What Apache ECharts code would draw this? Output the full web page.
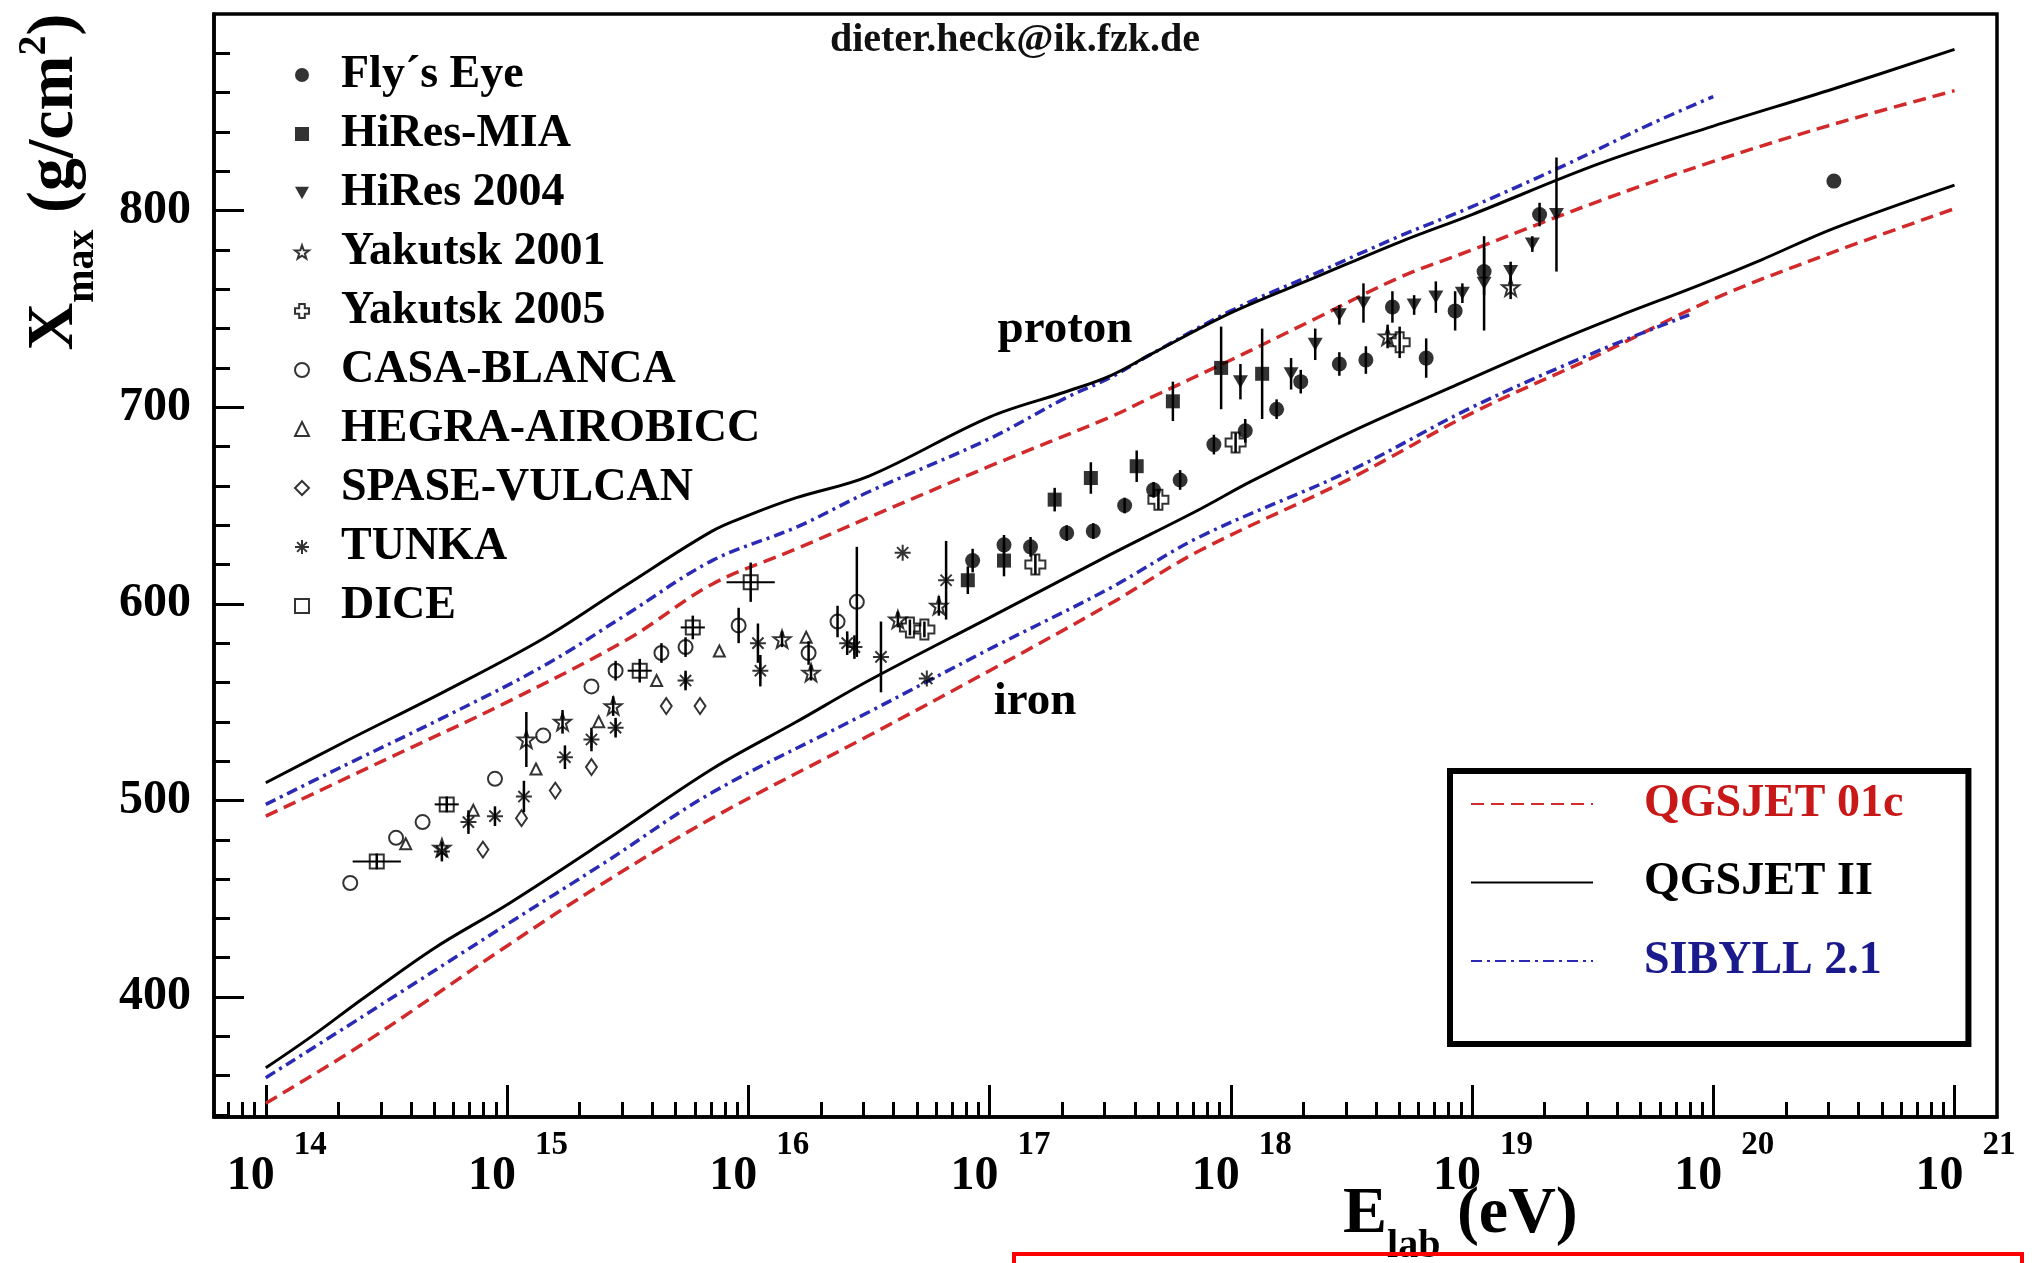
<!DOCTYPE html>
<html>
<head>
<meta charset="utf-8">
<title>Xmax versus primary energy</title>
<script src="https://cdn.jsdelivr.net/npm/echarts@6.0.0/dist/echarts.min.js"></script>
<style>
  html, body { margin: 0; padding: 0; background: #ffffff; }
  #chart { width: 2035px; height: 1263px; }
</style>
</head>
<body>
<div id="chart"></div>
<script>
// ---------- Model predictions: lg(E/eV) and Xmax (g/cm^2) ----------
const qgsjetIIProtonLgE  = [14.0, 14.33, 14.75, 15.16, 15.5, 15.85, 16.0, 16.2, 16.5, 17.0, 17.32, 17.5, 17.67, 18.0, 18.35, 18.7, 19.0, 19.53, 20.0, 20.5, 21.0];
const qgsjetIIProtonXmax = [509, 530, 556, 583, 610, 637, 645, 654, 665, 695, 708, 716, 727, 748, 766, 784, 798, 824, 843, 862, 882];

const sibyllProtonLgE  = [14.0, 14.33, 14.75, 15.16, 15.5, 15.85, 16.2, 16.5, 17.0, 17.32, 17.5, 17.67, 18.0, 18.35, 18.7, 19.0, 19.4, 19.74, 20.0];
const sibyllProtonXmax = [498, 518, 543, 569, 595, 622, 639, 657, 684, 705, 715, 727, 749, 768, 787, 802, 824, 844, 858];

const qgsjet01cProtonLgE  = [14.0, 14.5, 15.0, 15.5, 15.85, 16.2, 16.5, 17.0, 17.5, 17.67, 18.0, 18.35, 18.7, 19.0, 19.53, 20.0, 20.5, 21.0];
const qgsjet01cProtonXmax = [492, 521, 550, 582, 610, 628, 644, 670, 695, 705, 724, 745, 766, 780, 805, 825, 844, 861];

const qgsjetIIIronLgE  = [14.0, 14.19, 14.4, 14.7, 15.0, 15.4, 15.85, 16.2, 16.5, 17.0, 17.5, 17.87, 18.08, 18.49, 18.91, 19.32, 19.6, 19.94, 20.2, 20.5, 21.0];
const qgsjetIIIronXmax = [364, 380, 399, 425, 447, 479, 516, 540, 561, 593, 625, 648, 662, 687, 710, 732, 746, 762, 775, 791, 813];

const sibyllIronLgE  = [14.0, 14.4, 15.0, 15.4, 15.85, 16.5, 17.0, 17.5, 17.87, 18.5, 19.0, 19.53, 19.9];
const sibyllIronXmax = [359, 390, 437, 468, 504, 545, 577, 608, 634, 668, 700, 729, 747];

const qgsjet01cIronLgE  = [14.0, 14.4, 15.0, 15.4, 15.85, 16.5, 17.0, 17.5, 17.87, 18.5, 19.0, 19.53, 20.0, 20.5, 21.0];
const qgsjet01cIronXmax = [346, 376, 426, 458, 491, 533, 566, 600, 627, 664, 697, 727, 755, 779, 801];

// ---------- Measurements: lg(E/eV), Xmax, vertical error ----------
const flysEyeLgE  = [16.93, 17.06, 17.17, 17.32, 17.43, 17.56, 17.68, 17.79, 17.93, 18.06, 18.19, 18.29, 18.45, 18.56, 18.67, 18.81, 18.93, 19.05, 19.28, 20.50];
const flysEyeXmax = [622, 630, 629, 636, 637, 650, 658, 663, 681, 688, 699, 713, 722, 724, 751, 725, 749, 769, 798, 815];
const flysEyeErr  = [6, 5, 5, 4, 4, 4, 4, 5, 5, 6, 5, 6, 6, 7, 8, 10, 10, 12, 6, 0];

const hiresMiaLgE  = [16.91, 17.06, 17.27, 17.42, 17.61, 17.76, 17.96, 18.13];
const hiresMiaXmax = [612, 622, 653, 664, 670, 703, 720, 717];
const hiresMiaErr  = [7, 8, 6, 8, 8, 10, 21, 23];

const hires2004LgE  = [18.04, 18.25, 18.35, 18.45, 18.55, 18.76, 18.85, 18.96, 19.05, 19.16, 19.25, 19.35];
const hires2004Xmax = [713, 717, 732, 747, 753, 752, 756, 758, 763, 769, 783, 798];
const hires2004Err  = [9, 8, 8, 5, 10, 5, 8, 5, 24, 5, 4, 29];

const yakutsk2001LgE  = [14.73, 15.08, 15.23, 15.44, 16.14, 16.26, 16.62, 16.79, 18.65, 19.16];
const yakutsk2001Xmax = [476, 531, 540, 548, 582, 565, 592, 599, 736, 761];
const yakutsk2001Err  = [0, 14, 6, 5, 4, 4, 4, 5, 6, 6];

const yakutsk2005LgE  = [16.67, 16.73, 17.19, 17.70, 18.02, 18.70];
const yakutsk2005Xmax = [588, 587, 620, 653, 682, 733];
const yakutsk2005Err  = [4, 4, 5, 5, 5, 8];

const casaBlancaLgE  = [14.35, 14.54, 14.65, 14.95, 15.15, 15.35, 15.45, 15.64, 15.74, 15.96, 16.25, 16.37, 16.45];
const casaBlancaXmax = [458, 481, 489, 511, 533, 558, 566, 575, 578, 589, 575, 591, 601];
const casaBlancaErr  = [0, 0, 0, 0, 0, 0, 5, 5, 5, 9, 6, 8, 28];

const hegraLgE  = [14.58, 14.86, 15.12, 15.38, 15.62, 15.88, 16.24];
const hegraXmax = [478, 495, 516, 540, 561, 576, 583];
const hegraErr  = [0, 0, 0, 0, 0, 0, 0];

const spaseLgE  = [14.90, 15.06, 15.20, 15.35, 15.66, 15.80];
const spaseXmax = [475, 491, 505, 517, 548, 548];
const spaseErr  = [0, 0, 0, 0, 0, 0];

const tunkaLgE  = [14.73, 14.84, 14.95, 15.07, 15.24, 15.35, 15.45, 15.74, 16.04, 16.05, 16.41, 16.44, 16.55, 16.64, 16.74, 16.82];
const tunkaXmax = [474, 489, 492, 502, 522, 531, 537, 561, 580, 566, 580, 578, 573, 626, 562, 612];
const tunkaErr  = [5, 6, 5, 8, 6, 6, 5, 5, 10, 8, 6, 6, 18, 0, 0, 20];

const diceLgE    = [14.46, 14.75, 15.55, 15.77, 16.01];
const diceXmax   = [469, 498, 566, 588, 611];
const diceErr    = [4, 4, 6, 6, 10];
const diceLgErr  = [0.1, 0.05, 0.05, 0.05, 0.1];

// ---------- Axis ticks ----------
const energyDecades = [14, 15, 16, 17, 18, 19, 20, 21];
const xmaxTicks = [400, 500, 600, 700, 800];

// ---------- Chart ----------
const SERIF = '"Liberation Serif", "Times New Roman", serif';
const E_MIN = 6.1e13, E_MAX = 1.5e21;
const X_MIN = 339, X_MAX = 900;

const majorE = energyDecades.map(d => Math.pow(10, d));
const minorE = [];
for (let d = 13; d <= 20; d++) {
  for (let m = 2; m <= 9; m++) {
    const v = m * Math.pow(10, d);
    if (v > E_MIN && v < E_MAX) minorE.push(v);
  }
}
const minorXmax = [];
for (let v = 340; v < X_MAX; v += 20) {
  if (xmaxTicks.indexOf(v) < 0) minorXmax.push(v);
}

const toPairs = (lg, xs) => lg.map((l, i) => [Math.pow(10, l), xs[i]]);

const RED = '#d22a2a', BLUE = '#2a2ab4', BLACK = '#000000';
const DASH_RED = [13, 7];
const DASH_BLUE = [11, 5, 3, 5];

function curve(name, lg, xs, color, dash, width) {
  return {
    type: 'line', name, data: toPairs(lg, xs),
    symbol: 'none', showSymbol: false, smooth: 0.35,
    lineStyle: { color, width, type: dash },
    itemStyle: { color },
    z: 2, silent: true
  };
}

const STAR = 'path://M10,0L12.35,6.76L19.51,6.91L13.8,11.24L15.88,18.09L10,14L4.12,18.09L6.2,11.24L0.49,6.91L7.65,6.76Z';
const OPEN_CROSS = 'path://M3,0L7,0L7,3L10,3L10,7L7,7L7,10L3,10L3,7L0,7L0,3L3,3Z';
const TRI_DOWN = 'path://M0,0L10,0L5,9Z';
const ASTERISK = 'path://M0,5L10,5M5,0L5,10M1.5,1.5L8.5,8.5M1.5,8.5L8.5,1.5';

const HOLLOW = { color: 'rgba(255,255,255,0)', borderColor: '#000', borderWidth: 2 };
const FILLED = { color: '#000' };

const datasets = [
  { name: 'Fly\u00B4s Eye',     lg: flysEyeLgE,     x: flysEyeXmax,     err: flysEyeErr,     symbol: 'circle',  size: 15,       style: FILLED },
  { name: 'HiRes-MIA',          lg: hiresMiaLgE,    x: hiresMiaXmax,    err: hiresMiaErr,    symbol: 'rect',    size: 14,       style: FILLED },
  { name: 'HiRes 2004',         lg: hires2004LgE,   x: hires2004Xmax,   err: hires2004Err,   symbol: TRI_DOWN,  size: [15, 13], style: FILLED },
  { name: 'Yakutsk 2001',       lg: yakutsk2001LgE, x: yakutsk2001Xmax, err: yakutsk2001Err, symbol: STAR,      size: 17,       style: HOLLOW },
  { name: 'Yakutsk 2005',       lg: yakutsk2005LgE, x: yakutsk2005Xmax, err: yakutsk2005Err, symbol: OPEN_CROSS, size: 20,      style: HOLLOW },
  { name: 'CASA-BLANCA',        lg: casaBlancaLgE,  x: casaBlancaXmax,  err: casaBlancaErr,  symbol: 'circle',  size: 14,       style: HOLLOW },
  { name: 'HEGRA-AIROBICC',     lg: hegraLgE,       x: hegraXmax,       err: hegraErr,       symbol: 'triangle', size: 11,      style: HOLLOW },
  { name: 'SPASE-VULCAN',       lg: spaseLgE,       x: spaseXmax,       err: spaseErr,       symbol: 'diamond', size: [11, 16], style: HOLLOW },
  { name: 'TUNKA',              lg: tunkaLgE,       x: tunkaXmax,       err: tunkaErr,       symbol: ASTERISK,  size: 16,       style: HOLLOW },
  { name: 'DICE',               lg: diceLgE,        x: diceXmax,        err: diceErr,        symbol: 'rect',    size: 14,       style: HOLLOW, lgErr: diceLgErr }
];

const errorBars = [];
datasets.forEach(ds => {
  ds.lg.forEach((l, i) => {
    const dlg = ds.lgErr ? ds.lgErr[i] : 0;
    if (ds.err[i] > 0 || dlg > 0) errorBars.push([Math.pow(10, l), ds.x[i], ds.err[i], dlg]);
  });
});

const pointSeries = datasets.map(ds => ({
  type: 'scatter', name: ds.name, data: toPairs(ds.lg, ds.x),
  symbol: ds.symbol, symbolSize: ds.size,
  itemStyle: Object.assign({}, ds.style),
  z: 4, silent: true
}));

const curveSeries = [
  curve('QGSJET 01c', qgsjet01cProtonLgE, qgsjet01cProtonXmax, RED, DASH_RED, 3.5),
  curve('QGSJET 01c', qgsjet01cIronLgE,   qgsjet01cIronXmax,   RED, DASH_RED, 3.5),
  curve('SIBYLL 2.1', sibyllProtonLgE,    sibyllProtonXmax,    BLUE, DASH_BLUE, 3.5),
  curve('SIBYLL 2.1', sibyllIronLgE,      sibyllIronXmax,      BLUE, DASH_BLUE, 3.5),
  curve('QGSJET II',  qgsjetIIProtonLgE,  qgsjetIIProtonXmax,  BLACK, 'solid', 3),
  curve('QGSJET II',  qgsjetIIIronLgE,    qgsjetIIIronXmax,    BLACK, 'solid', 3)
];

const errorSeries = {
  type: 'custom', name: 'error bars', silent: true, z: 3,
  data: errorBars,
  encode: { x: 0, y: 1 },
  renderItem(params, api) {
    const x = api.value(0), y = api.value(1), dy = api.value(2), dlg = api.value(3);
    const kids = [];
    if (dy > 0) {
      const a = api.coord([x, y - dy]), b = api.coord([x, y + dy]);
      kids.push({ type: 'line', shape: { x1: a[0], y1: a[1], x2: b[0], y2: b[1] }, style: { stroke: '#000', lineWidth: 2.5 } });
    }
    if (dlg > 0) {
      const a = api.coord([x / Math.pow(10, dlg), y]), b = api.coord([x * Math.pow(10, dlg), y]);
      kids.push({ type: 'line', shape: { x1: a[0], y1: a[1], x2: b[0], y2: b[1] }, style: { stroke: '#000', lineWidth: 2 } });
    }
    return { type: 'group', children: kids };
  }
};

const chart = echarts.init(document.getElementById('chart'), null, { renderer: 'canvas' });

const labelFont = { fontFamily: SERIF, fontWeight: 'bold', color: '#000' };

chart.setOption({
  animation: false,
  backgroundColor: '#ffffff',
  grid: {
    left: 214, right: 38, top: 14, bottom: 146,
    show: true, borderColor: '#000', borderWidth: 3.5,
    backgroundColor: 'rgba(0,0,0,0)',
    containLabel: false, outerBoundsMode: 'none'
  },
  xAxis: [
    {
      type: 'log', logBase: 10, min: E_MIN, max: E_MAX, position: 'bottom',
      axisLine: { show: true, onZero: false, lineStyle: { color: '#000', width: 3.5 } },
      axisTick: { show: true, inside: true, length: 32, lineStyle: { color: '#000', width: 3 }, customValues: majorE },
      axisLabel: Object.assign({ customValues: majorE, formatter: () => '10', fontSize: 48, lineHeight: 48,
                                 margin: 36, align: 'center', padding: [0, 30, 0, 0] }, labelFont),
      splitLine: { show: false }, minorTick: { show: false }
    },
    {
      type: 'log', logBase: 10, min: E_MIN, max: E_MAX, position: 'bottom',
      axisLine: { show: false },
      axisTick: { show: true, inside: true, length: 15, lineStyle: { color: '#000', width: 3 }, customValues: minorE },
      axisLabel: Object.assign({ customValues: majorE, formatter: v => String(Math.round(Math.log10(v))),
                                 fontSize: 33, lineHeight: 33, margin: 12, align: 'left', padding: [0, 0, 0, 28] }, labelFont),
      splitLine: { show: false }
    }
  ],
  yAxis: [
    {
      type: 'value', min: X_MIN, max: X_MAX, position: 'left',
      axisLine: { show: true, onZero: false, lineStyle: { color: '#000', width: 3.5 } },
      axisTick: { show: true, inside: true, length: 30, lineStyle: { color: '#000', width: 3 }, customValues: xmaxTicks },
      axisLabel: Object.assign({ customValues: xmaxTicks, fontSize: 48, margin: 23 }, labelFont),
      splitLine: { show: false }
    },
    {
      type: 'value', min: X_MIN, max: X_MAX, position: 'left',
      axisLine: { show: false },
      axisTick: { show: true, inside: true, length: 16, lineStyle: { color: '#000', width: 3 }, customValues: minorXmax },
      axisLabel: { show: false },
      splitLine: { show: false }
    }
  ],
  legend: [
    {
      data: datasets.map(d => d.name),
      orient: 'vertical', left: 294, top: 52, padding: 0,
      itemWidth: 14, itemHeight: 14, itemGap: 13,
      selectedMode: false,
      textStyle: { fontFamily: SERIF, fontWeight: 'bold', fontSize: 46, lineHeight: 46, color: '#000', padding: [0, 0, 0, 27] }
    },
    {
      data: [
        { name: 'QGSJET 01c', textStyle: { color: '#c81818' } },
        { name: 'QGSJET II',  textStyle: { color: '#000000' } },
        { name: 'SIBYLL 2.1', textStyle: { color: '#1a1a8c' } }
      ],
      orient: 'vertical', left: 1450, top: 771, padding: [10, 65, 60, 20],
      itemWidth: 122, itemHeight: 14, itemGap: 32.5,
      selectedMode: false,
      itemStyle: { opacity: 0 },
      borderColor: '#000', borderWidth: 6, backgroundColor: '#ffffff',
      textStyle: { fontFamily: SERIF, fontWeight: 'bold', fontSize: 46, lineHeight: 46, padding: [0, 0, 0, 46] }
    }
  ],
  graphic: [
    {
      type: 'text', x: 55, y: 182, rotation: Math.PI / 2, z: 50,
      style: {
        text: '{m|X}{s|max}{m| (g/cm}{p|2}{m|)}',
        align: 'center', verticalAlign: 'middle', lineHeight: 72,
        rich: {
          m: { fontFamily: SERIF, fontWeight: 'bold', fontSize: 66, lineHeight: 72, fill: '#000' },
          s: { fontFamily: SERIF, fontWeight: 'bold', fontSize: 40, lineHeight: 72, fill: '#000', padding: [56, 0, 0, 0] },
          p: { fontFamily: SERIF, fontWeight: 'bold', fontSize: 40, lineHeight: 72, fill: '#000', padding: [0, 0, 40, 0] }
        }
      }
    },
    {
      type: 'text', x: 1343, y: 1215, z: 50,
      style: {
        text: '{m|E}{s|lab}{m| (eV)}',
        align: 'left', verticalAlign: 'middle', lineHeight: 72,
        rich: {
          m: { fontFamily: SERIF, fontWeight: 'bold', fontSize: 66, lineHeight: 72, fill: '#000' },
          s: { fontFamily: SERIF, fontWeight: 'bold', fontSize: 40, lineHeight: 72, fill: '#000', padding: [64, 0, 0, 0] }
        }
      }
    },
    {
      type: 'text', x: 1065, y: 330, z: 50,
      style: { text: 'proton', font: 'bold 47px ' + SERIF, fill: '#000', align: 'center', verticalAlign: 'middle' }
    },
    {
      type: 'text', x: 1035, y: 702, z: 50,
      style: { text: 'iron', font: 'bold 47px ' + SERIF, fill: '#000', align: 'center', verticalAlign: 'middle' }
    },
    {
      type: 'text', x: 1015, y: 41, z: 50,
      style: { text: 'dieter.heck@ik.fzk.de', font: '600 40px ' + SERIF, fill: '#111', align: 'center', verticalAlign: 'middle' }
    },
    {
      type: 'rect', z: 100,
      shape: { x: 1014, y: 1254, width: 1008, height: 40 },
      style: { fill: 'none', stroke: '#ff0000', lineWidth: 4 }
    }
  ],
  series: [].concat(curveSeries, [errorSeries], pointSeries)
});
</script>
</body>
</html>
